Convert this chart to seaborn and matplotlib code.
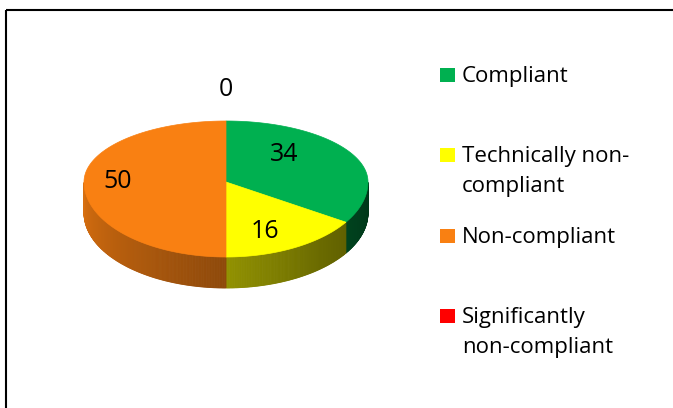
import numpy as np
import seaborn as sns
import matplotlib
matplotlib.use("Agg")
from matplotlib import pyplot as plt
from matplotlib.patches import Polygon, Rectangle

# data
categories = ["Compliant", "Technically non-compliant", "Non-compliant", "Significantly non-compliant"]
legend_lines = [["Compliant"], ["Technically non-", "compliant"], ["Non-compliant"], ["Significantly", "non-compliant"]]
values = [34, 16, 50, 0]
colors = ["#00B050", "#FFFF00", "#F98012", "#FF0000"]

sns.set_theme(style="white")
plt.rcParams["font.family"] = ["Open Sans", "DejaVu Sans"]
pal = sns.color_palette(colors)

fig = plt.figure(figsize=(6.73, 4.08), dpi=100)
ax = fig.add_axes([0, 0, 1, 1])
ax.set_xlim(0, 673)
ax.set_ylim(408, 0)
ax.axis("off")

# pie layout (pixels): perspective-ish ellipse
cx, cy = 226, 182
rx, ry_back, ry_front = 142, 61, 75
depth = 31


def pt(theta_deg):
    t = np.radians(theta_deg)
    s = np.sin(t)
    ry = ry_back if s > 0 else ry_front
    return cx + rx * np.cos(t), cy - ry * s


def shade(theta_deg):
    tm = theta_deg % 360
    return np.interp(tm, [180, 270, 310, 360], [0.87, 0.57, 0.42, 0.3])


total = sum(values)
cum = np.concatenate([[0], np.cumsum(values)])
starts = 90 - 360 * cum[:-1] / total
ends = 90 - 360 * cum[1:] / total

# side walls (front half only)
for i, v in enumerate(values):
    if v == 0:
        continue
    angs = np.linspace(starts[i], ends[i], max(int(abs(starts[i] - ends[i])) * 2, 2))
    base = np.array(pal[i])
    for a0, a1 in zip(angs[:-1], angs[1:]):
        mid = (a0 + a1) / 2
        if not (180 <= mid % 360 <= 360):
            continue
        p0, p1 = pt(a0), pt(a1)
        poly = [p0, p1, (p1[0], p1[1] + depth), (p0[0], p0[1] + depth)]
        c = np.clip(base * shade(mid), 0, 1)
        ax.add_patch(Polygon(poly, closed=True, facecolor=c, edgecolor=c, lw=0.6))

# top faces
for i, v in enumerate(values):
    if v == 0:
        continue
    angs = np.linspace(starts[i], ends[i], 200)
    poly = [(cx, cy)] + [pt(a) for a in angs]
    ax.add_patch(Polygon(poly, closed=True, facecolor=pal[i], edgecolor=pal[i], lw=0.5))

# data labels
label_fx = [0.47, 0.57, 0.76, 1.0]
label_fy = [0.95, 0.75, 1.0, 1.52]
for i, v in enumerate(values):
    mid = np.radians((starts[i] + ends[i]) / 2)
    s = np.sin(mid)
    ry = ry_back if s >= 0 else ry_front
    x = cx + rx * label_fx[i] * np.cos(mid)
    y = cy - ry * label_fy[i] * s
    ax.text(x, y, str(v), ha="center", va="center", fontsize=18, color="black")

# legend
leg_x, leg_text_x = 440, 462
baselines = [82, 162, 243, 323]
line_gap = 30
for i, lines in enumerate(legend_lines):
    b = baselines[i]
    ax.add_patch(Rectangle((leg_x, b - 14), 15, 14, facecolor=pal[i], edgecolor="none"))
    for k, line in enumerate(lines):
        ax.text(leg_text_x, b + k * line_gap, line, ha="left", va="baseline",
                fontsize=16, color="black")

# chart area border
ax.add_patch(Rectangle((5.5, 9.5), 700, 450, facecolor="none", edgecolor="black", lw=1.5,
                       clip_on=True))

fig.savefig("out.png", dpi=100)
